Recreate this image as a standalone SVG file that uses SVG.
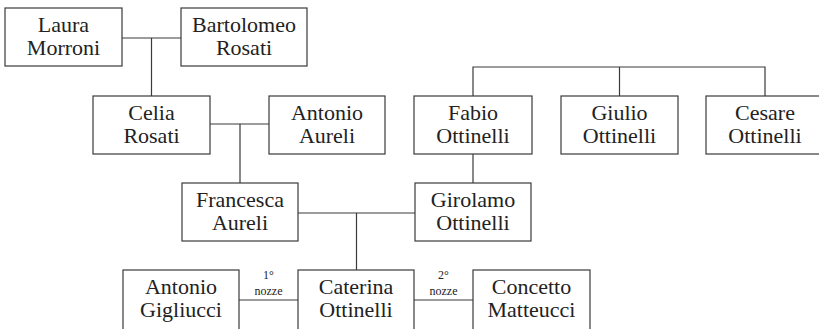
<svg xmlns="http://www.w3.org/2000/svg" width="819" height="329" viewBox="0 0 819 329">
<style>
.box{fill:#fff;stroke:#3a3a3a;stroke-width:1.2}
.t{font-family:"Liberation Serif","Times New Roman",serif;font-size:22px;fill:#222;text-anchor:middle}
.s{font-family:"Liberation Serif","Times New Roman",serif;font-size:12px;fill:#222;text-anchor:middle}
.c{fill:none;stroke:#3a3a3a;stroke-width:1.2}
</style>
<rect width="819" height="329" fill="#fff"/>
<g id="connectors">
<path class="c" d="M122 38H181M151.5 38V96"/>
<path class="c" d="M210 124H269M240 124V183"/>
<path class="c" d="M473 96V67H765V96M619.5 67V96"/>
<path class="c" d="M473 154V183"/>
<path class="c" d="M298 213H415M356.5 213V270"/>
<path class="c" d="M239 300H298M414 300H473"/>
</g>
<g id="laura"><rect class="box" x="5" y="8" width="117" height="58"/><text class="t" x="63.5" y="32">Laura</text><text class="t" x="63.5" y="55">Morroni</text></g>
<g id="bartolomeo"><rect class="box" x="181" y="8" width="126" height="58"/><text class="t" x="244" y="32">Bartolomeo</text><text class="t" x="244" y="55">Rosati</text></g>
<g id="celia"><rect class="box" x="93" y="96" width="117" height="58"/><text class="t" x="151.5" y="120">Celia</text><text class="t" x="151.5" y="143">Rosati</text></g>
<g id="antonio-aureli"><rect class="box" x="269" y="96" width="116" height="58"/><text class="t" x="327" y="120">Antonio</text><text class="t" x="327" y="143">Aureli</text></g>
<g id="fabio"><rect class="box" x="414" y="96" width="118" height="58"/><text class="t" x="473" y="120">Fabio</text><text class="t" x="473" y="143">Ottinelli</text></g>
<g id="giulio"><rect class="box" x="561" y="96" width="117" height="58"/><text class="t" x="619.5" y="120">Giulio</text><text class="t" x="619.5" y="143">Ottinelli</text></g>
<g id="cesare"><rect class="box" x="706" y="96" width="118" height="58"/><text class="t" x="765" y="120">Cesare</text><text class="t" x="765" y="143">Ottinelli</text></g>
<g id="francesca"><rect class="box" x="182" y="183" width="116" height="58"/><text class="t" x="240" y="207">Francesca</text><text class="t" x="240" y="230">Aureli</text></g>
<g id="girolamo"><rect class="box" x="415" y="183" width="116" height="58"/><text class="t" x="473" y="207">Girolamo</text><text class="t" x="473" y="230">Ottinelli</text></g>
<g id="antonio-gigliucci"><rect class="box" x="123" y="270" width="116" height="70"/><text class="t" x="181" y="294">Antonio</text><text class="t" x="181" y="317">Gigliucci</text></g>
<g id="caterina"><rect class="box" x="298" y="270" width="116" height="70"/><text class="t" x="356" y="294">Caterina</text><text class="t" x="356" y="317">Ottinelli</text></g>
<g id="concetto"><rect class="box" x="473" y="270" width="117" height="70"/><text class="t" x="531.5" y="294">Concetto</text><text class="t" x="531.5" y="317">Matteucci</text></g>
<g id="labels"><text class="s" x="268.5" y="279">1°</text><text class="s" x="268.5" y="295">nozze</text><text class="s" x="443.5" y="279">2°</text><text class="s" x="443.5" y="295">nozze</text></g>
</svg>
